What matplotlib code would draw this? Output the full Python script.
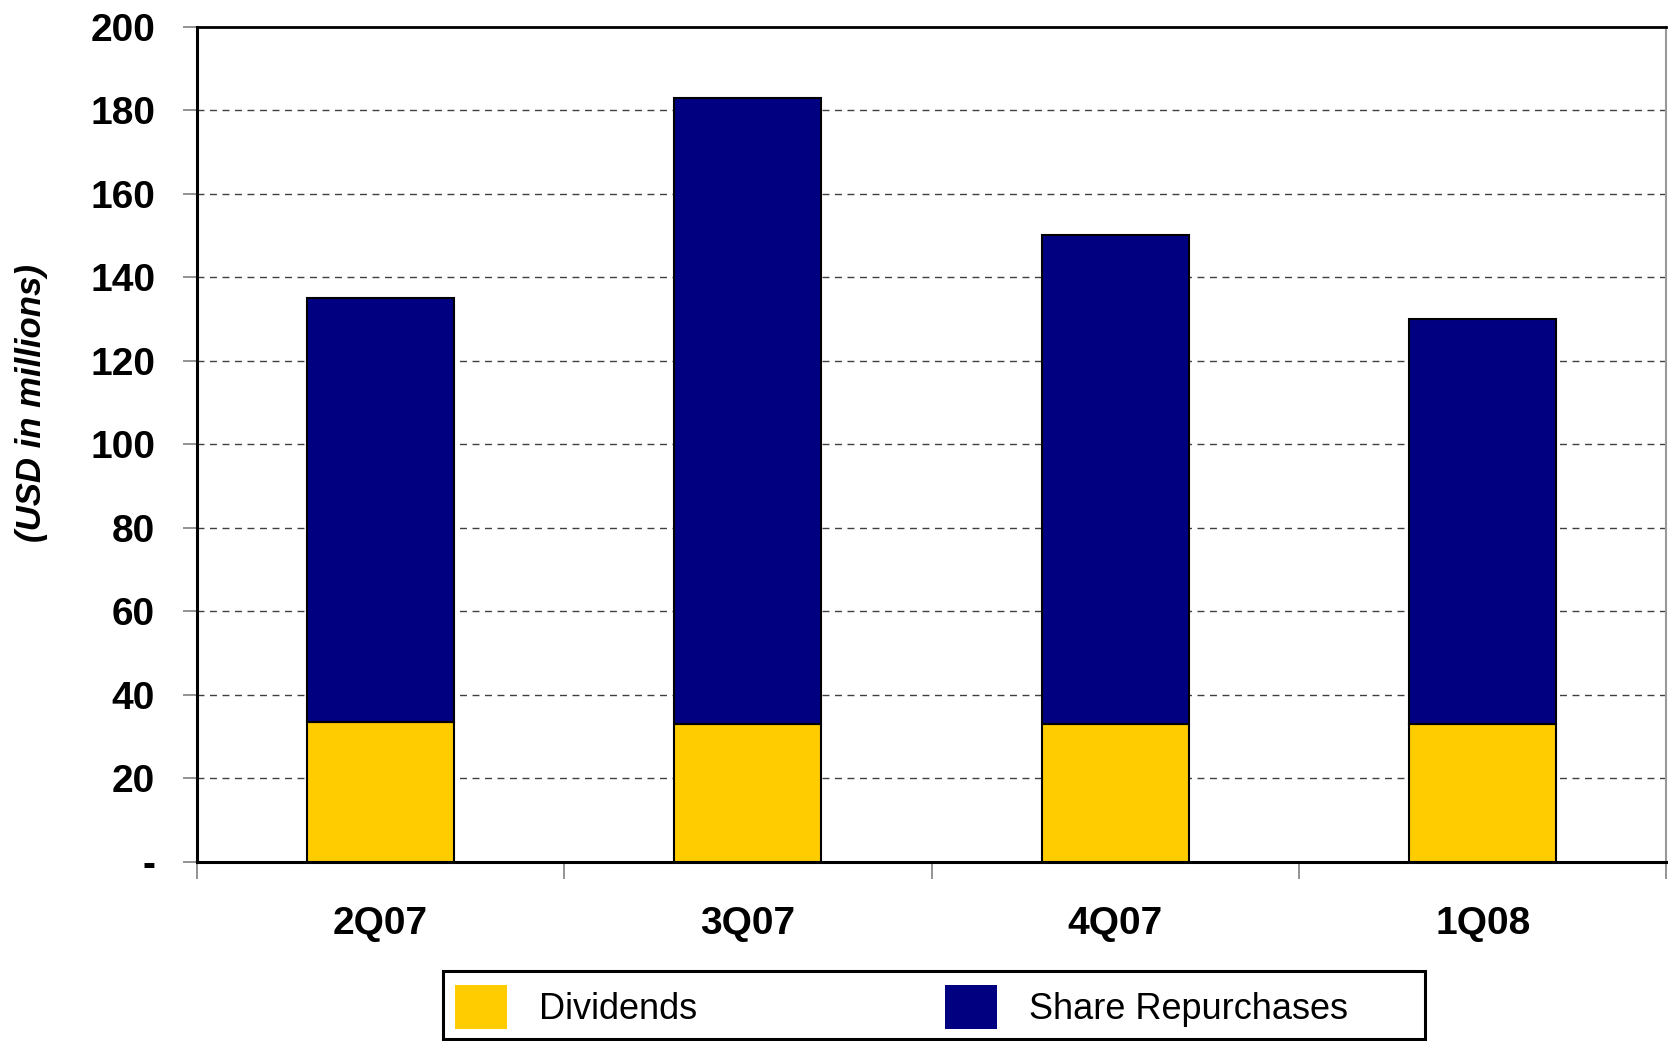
import matplotlib.pyplot as plt
from matplotlib.patches import Rectangle
import numpy as np

plt.rcParams['font.family'] = ['Liberation Sans', 'DejaVu Sans']

quarters = ["2Q07", "3Q07", "4Q07", "1Q08"]
dividends = [33.5, 33, 33, 33]
repurchases = [101.5, 150, 117, 97]
ytick_vals = [0, 20, 40, 60, 80, 100, 120, 140, 160, 180, 200]
ytick_labels = ["-", "20", "40", "60", "80", "100", "120", "140", "160", "180", "200"]

W, H = 1668, 1041
fig = plt.figure(figsize=(W / 100, H / 100), dpi=100)
ax = fig.add_axes([0.118, 0.172, 0.881, 0.8025])

x = np.arange(len(quarters))
b1 = ax.bar(x, dividends, width=0.4, color="#FFCC00", edgecolor="black", linewidth=1.5,
            label="Dividends", zorder=3)
b2 = ax.bar(x, repurchases, width=0.4, bottom=dividends, color="#000080", edgecolor="black",
            linewidth=1.5, label="Share Repurchases", zorder=3)

ax.set_xlim(-0.5, len(quarters) - 0.5)
ax.set_ylim(0, 200)

#y axis
ax.set_yticks(ytick_vals)
ax.set_yticklabels(ytick_labels, fontsize=28, fontweight="bold")
ax.tick_params(axis="y", length=10, width=1.2, color="#808080", pad=20, direction="out")
fig.text(0.019, 1 - 403 / H, "(USD in millions)", rotation=90, ha="center", va="center",
         fontsize=25, fontweight="bold", style="italic")

#x axis: ticks at category boundaries, labels at centres
ax.set_xticks(np.arange(len(quarters) + 1) - 0.5)
ax.set_xticklabels([])
ax.set_xticks(x, minor=True)
ax.set_xticklabels(quarters, minor=True, fontsize=28, fontweight="bold")
ax.tick_params(axis="x", which="major", length=12, width=1.2, color="#808080", direction="out")
ax.tick_params(axis="x", which="minor", length=0, pad=32)

#dashed gridlines
for v in ytick_vals[1:-1]:
    ax.axhline(v, color="#404040", linestyle=(0, (5, 4)), linewidth=1.0, zorder=1)

for s in ["left", "bottom"]:
    ax.spines[s].set_linewidth(2.2)
    ax.spines[s].set_color("black")
ax.spines["top"].set_linewidth(2.0)
ax.spines["right"].set_color("#999999")
ax.spines["right"].set_linewidth(1.5)

#legend box drawn by hand, legend itself frameless
fig.patches.append(Rectangle((443 / W, 1 - 1039 / H), 982 / W, 68 / H, transform=fig.transFigure,
                             facecolor="white", edgecolor="black", linewidth=2.2))
leg = fig.legend(handles=[b1, b2], loc="center left", ncol=2,
                 bbox_to_anchor=(455 / W, 1 - 1007 / H),
                 fontsize=26, frameon=False, handlelength=1.44, handleheight=1.5,
                 handletextpad=0.88, columnspacing=6.88, borderaxespad=0, borderpad=0)
for h in leg.legend_handles:
    h.set_edgecolor("none")

fig.savefig("out.png", dpi=100)
